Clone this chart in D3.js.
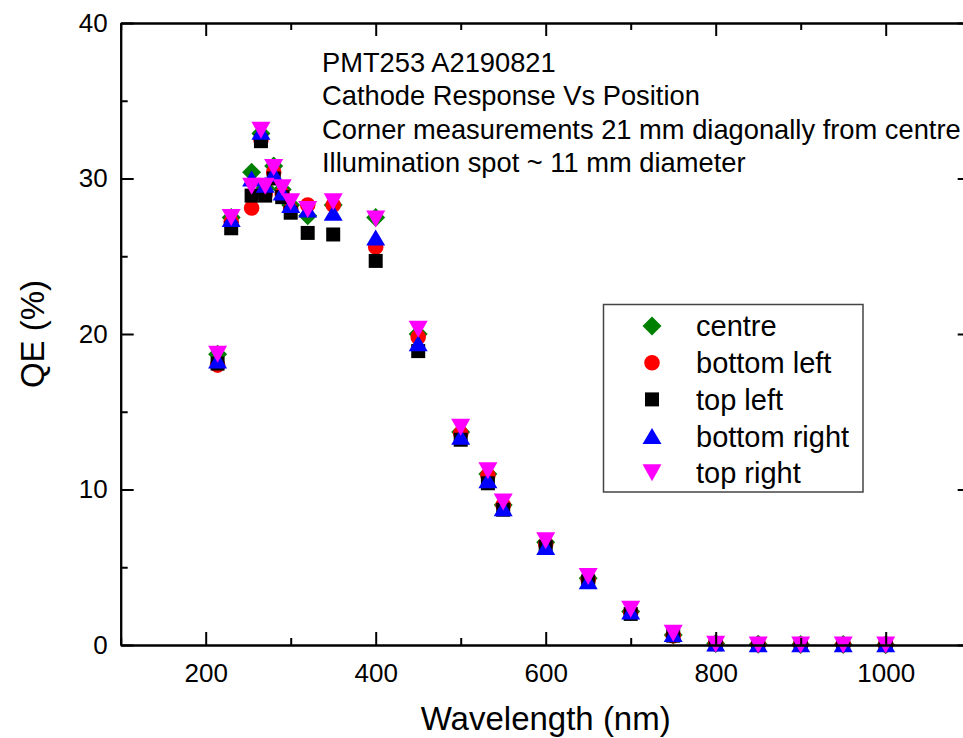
<!DOCTYPE html>
<html>
<head>
<meta charset="utf-8">
<script src="https://cdn.jsdelivr.net/npm/d3@7"></script>
<style>
  body { margin: 0; background: #fff; }
  svg text { font-family: "Liberation Sans", Arial, sans-serif; fill: #000; }
</style>
</head>
<body>
<svg id="chart" width="963" height="738"></svg>
<script>
// wavelengths in nm
const wavelength = [214, 230, 254, 265, 270, 280, 290, 300, 320, 350, 400, 450, 500, 532, 550, 600, 650, 700, 750, 800, 850, 900, 950, 1000];

// QE (%) per position
const centre      = [18.7, 27.5, 30.4, 32.9, 29.4, 30.8, 29.3, 28.3, 27.6, 28.3, 27.5, 20.0, 13.7, 11.0, 9.0, 6.6, 4.3, 2.15, 0.65, 0.1, 0.05, 0.04, 0.03, 0.02];
const bottomLeft  = [18.0, 27.2, 28.1, 32.5, 29.0, 30.4, 29.0, 28.0, 28.3, 28.3, 25.6, 19.8, 13.6, 10.9, 9.0, 6.5, 4.2, 2.1, 0.6, 0.1, 0.05, 0.04, 0.03, 0.02];
const topLeft     = [18.1, 26.8, 28.9, 32.4, 28.9, 30.0, 28.8, 27.8, 26.5, 26.4, 24.7, 18.9, 13.2, 10.4, 8.7, 6.3, 4.1, 2.0, 0.6, 0.05, 0.0, 0.0, 0.0, 0.0];
const bottomRight = [18.3, 27.4, 30.0, 33.0, 29.6, 30.3, 29.1, 28.3, 28.0, 27.8, 26.2, 19.4, 13.4, 10.6, 8.8, 6.3, 4.1, 2.15, 0.7, 0.1, 0.05, 0.05, 0.05, 0.05];
const topRight    = [18.7, 27.5, 29.5, 33.1, 29.5, 30.7, 29.4, 28.5, 28.0, 28.5, 27.4, 20.3, 14.0, 11.2, 9.2, 6.7, 4.4, 2.3, 0.75, 0.05, 0.0, 0.0, 0.0, 0.0];

const seriesNames = ["centre", "bottom left", "top left", "bottom right", "top right"];

const xMajor = [200, 400, 600, 800, 1000];
const xMinor = [100, 300, 500, 700, 900, 1100];
const yMajor = [0, 10, 20, 30, 40];
const yMinor = [5, 15, 25, 35];

const notes = [
  "PMT253 A2190821",
  "Cathode Response Vs Position",
  "Corner measurements 21 mm diagonally from centre",
  "Illumination spot ~ 11 mm diameter"
];

// marker shapes
const shapes = {
  diamond: "M0,-9.5L9.5,0L0,9.5L-9.5,0Z",
  circle: "M7.8,0A7.8,7.8 0 1,1 -7.8,0A7.8,7.8 0 1,1 7.8,0Z",
  square: "M-7,-7H7V7H-7Z",
  up: "M0,-8L9.5,8H-9.5Z",
  down: "M-9.5,-8.5H9.5L0,8.5Z"
};

const series = [
  {name: seriesNames[0], values: centre, color: "#008000", shape: "diamond"},
  {name: seriesNames[1], values: bottomLeft, color: "#ff0000", shape: "circle"},
  {name: seriesNames[2], values: topLeft, color: "#000000", shape: "square"},
  {name: seriesNames[3], values: bottomRight, color: "#0000ff", shape: "up"},
  {name: seriesNames[4], values: topRight, color: "#ff00ff", shape: "down"}
];

const svg = d3.select("#chart");
const plotL = 120.7, plotR = 970.7, plotT = 23, plotB = 645;

const x = d3.scaleLinear([100, 1100], [plotL, plotR]);
const y = d3.scaleLinear([0, 40], [plotB, plotT]);

// points
series.forEach(s => {
  svg.append("g")
    .selectAll("path")
    .data(s.values.map((v, i) => [wavelength[i], v]))
    .join("path")
    .attr("d", shapes[s.shape])
    .attr("transform", d => `translate(${x(d[0])},${y(d[1])})`)
    .attr("fill", s.color);
});

function styleAxis(g) {
  g.select(".domain").attr("stroke-width", 2);
  g.selectAll(".tick line").attr("stroke-width", 2);
  g.selectAll(".tick text").attr("font-size", 26).attr("font-family", "Liberation Sans, Arial, sans-serif");
}

// bottom axis
svg.append("g").attr("transform", `translate(0,${plotB})`)
  .call(d3.axisBottom(x).tickValues(xMajor).tickSizeInner(-13).tickSizeOuter(0).tickPadding(19).tickFormat(d3.format("d")))
  .call(styleAxis);
svg.append("g").attr("transform", `translate(0,${plotB})`)
  .call(d3.axisBottom(x).tickValues(xMinor).tickSizeInner(-7).tickSizeOuter(0).tickFormat(""))
  .call(styleAxis);

// top axis
svg.append("g").attr("transform", `translate(0,${plotT})`)
  .call(d3.axisTop(x).tickValues(xMajor).tickSizeInner(-13).tickSizeOuter(0).tickFormat(""))
  .call(styleAxis);
svg.append("g").attr("transform", `translate(0,${plotT})`)
  .call(d3.axisTop(x).tickValues(xMinor).tickSizeInner(-7).tickSizeOuter(0).tickFormat(""))
  .call(styleAxis);

// left axis
svg.append("g").attr("transform", `translate(${plotL},0)`)
  .call(d3.axisLeft(y).tickValues(yMajor).tickSizeInner(-13).tickSizeOuter(0).tickPadding(13))
  .call(styleAxis);
svg.append("g").attr("transform", `translate(${plotL},0)`)
  .call(d3.axisLeft(y).tickValues(yMinor).tickSizeInner(-7).tickSizeOuter(0).tickFormat(""))
  .call(styleAxis);

// right axis (mostly outside the window)
svg.append("g").attr("transform", `translate(${plotR},0)`)
  .call(d3.axisRight(y).tickValues(yMajor).tickSizeInner(-13).tickSizeOuter(0).tickFormat(""))
  .call(styleAxis);

// axis titles
svg.append("text")
  .attr("x", (plotL + plotR) / 2).attr("y", 730)
  .attr("text-anchor", "middle").attr("font-size", 33)
  .text("Wavelength (nm)");
svg.append("text")
  .attr("transform", `translate(44,${(plotT + plotB) / 2}) rotate(-90)`)
  .attr("text-anchor", "middle").attr("font-size", 33)
  .text("QE (%)");

// annotation
svg.append("g")
  .selectAll("text")
  .data(notes)
  .join("text")
  .attr("x", 322)
  .attr("y", (d, i) => 71.5 + i * 33.6)
  .attr("font-size", 27.3)
  .text(d => d);

// legend
const lg = svg.append("g");
lg.append("rect")
  .attr("x", 603.5).attr("y", 304.5).attr("width", 259.5).attr("height", 187.5)
  .attr("fill", "#fff").attr("stroke", "#444").attr("stroke-width", 1.5);
const rows = lg.selectAll("g.row").data(series).join("g")
  .attr("class", "row")
  .attr("transform", (d, i) => `translate(652,${326 + i * 36.7})`);
rows.append("path").attr("d", d => shapes[d.shape]).attr("fill", d => d.color);
rows.append("text")
  .attr("x", 44).attr("dy", "0.36em")
  .attr("font-size", 29)
  .text(d => d.name);
</script>
</body>
</html>
